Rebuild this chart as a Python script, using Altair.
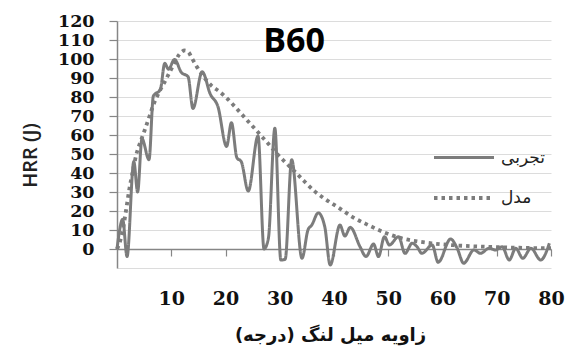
import altair as alt
import pandas as pd

# Experimental heat release rate (J) against crank angle (deg)
exp_x = [0, 1.05, 1.85, 3.1, 3.8, 4.6, 5.9, 6.7, 8.0, 8.8, 9.5, 10.6, 11.85, 13.1, 14.0,
         15.7, 17.2, 18.6, 20.2, 21.1, 22.1, 22.9, 24.2, 26.0, 27.1, 27.9, 29.1, 30.2,
         31.0, 32.2, 34.1, 35.2, 35.9, 37.1, 38.3, 39.3, 41.1, 42.0, 43.0, 44.8, 45.9,
         47.3, 48.2, 49.3, 50.2, 51.9, 53.1, 54.4, 55.3, 56.2, 58.1, 59.2, 61.5, 62.7,
         63.9, 65.8, 67.0, 68.6, 69.8, 71.0, 72.3, 73.5, 74.8, 76.3, 78.1, 79.7]
exp_y = [0, 15.6, -4, 46, 30, 58, 47, 80.5, 84, 97.7, 94.6, 99.8, 93, 90.7, 74,
         93.3, 81.5, 75, 54, 66.5, 48, 46, 30.5, 59.5, 0, 5.5, 63.5, -5.8,
         -5.4, 47, -4.9, 10, 12.6, 19, 11.7, -8.4, 12.6, 6.8, 11.4, 1.2, -4,
         2.6, -4, 6.5, 2.1, 6.5, -2.3, 3, 1.2, -2.3, 2.1, -7, 5.3, 0.4,
         -7.5, -0.5, -2.3, 0.4, -0.5, 1.2, -5.8, 0.4, -4.9, 0.4, -5.8, 3]

# Model heat release rate (J)
model_x = [0, 0.5, 1, 1.7, 2.3, 3, 3.5, 4.4, 5.1, 6, 6.6, 7.5, 8.8, 9.7, 10.6, 11.5,
           12.5, 13.2, 13.8, 14.6, 16, 17.4, 18.8, 20.1, 21.7, 23.5, 25.5, 26.6, 27.7,
           29.7, 30.9, 33.1, 34.6, 36.5, 38, 40.7, 43.5, 46.3, 49.4, 52.5, 55.6, 58,
           62, 66, 70, 75, 80]
model_y = [0, 3.5, 9, 21, 32, 42, 49, 57, 62.5, 70, 75, 81, 88, 93, 98, 102.5,
           104.5, 103.5, 100.5, 96.5, 90.5, 86, 83, 79.8, 75, 69.3, 63, 59.5, 56,
           49.5, 46, 39.8, 35.4, 30.2, 27, 22, 16.7, 12.6, 8.6, 5.6, 3.9, 3,
           2, 1.4, 1, 0.6, 0.4]

SERIES = ["تجربی", "مدل"]
X_TITLE = "زاویه میل لنگ (درجه)\u200f"
Y_TITLE = "HRR (J)"
PANEL_LABEL = "B60"

x_ticks = [10, 20, 30, 40, 50, 60, 70, 80]
y_ticks = list(range(-10, 121, 10))

df = pd.concat([
    pd.DataFrame({"angle": exp_x, "hrr": exp_y, "series": SERIES[0],
                  "order": range(len(exp_x))}),
    pd.DataFrame({"angle": model_x, "hrr": model_y, "series": SERIES[1],
                  "order": range(len(model_x))}),
], ignore_index=True)

W, H = 434, 247
PAD_L, PAD_T = 117, 21
GRAY = "#7c7c7c"
AXIS_GRAY = "#868686"

legend = alt.Legend(
    title=None, orient="none", legendX=315, legendY=105,
    symbolType="stroke", symbolSize=3600, symbolStrokeWidth=3,
    labelFont="DejaVu Sans", labelFontSize=17, labelColor="#222",
    labelOffset=5, rowPadding=-21, padding=0,
)

lines = alt.Chart(df).mark_line(interpolate="monotone").encode(
    x=alt.X(
        "angle:Q",
        scale=alt.Scale(domain=[0, 80], nice=False, zero=False),
        axis=alt.Axis(
            values=x_ticks, offset=-19, grid=False,
            domainColor=AXIS_GRAY, domainWidth=1.5,
            tickColor=AXIS_GRAY, tickSize=7, tickWidth=1.2,
            labelFont="DejaVu Serif", labelFontWeight="bold",
            labelFontSize=19, labelColor="#111", labelPadding=33,
            labelFlush=False, labelOverlap=False,
            title=X_TITLE, titleFont="DejaVu Sans", titleFontSize=18,
            titleFontWeight="bold", titleColor="#111",
            titleX=213, titleY=86, titleAlign="center", titleBaseline="middle",
        ),
    ),
    y=alt.Y(
        "hrr:Q",
        scale=alt.Scale(domain=[-10, 120], nice=False),
        axis=alt.Axis(
            values=y_ticks, labelExpr="datum.value < 0 ? '' : datum.label",
            grid=True, gridColor="#dcdcdc", gridWidth=1,
            domainColor=AXIS_GRAY, domainWidth=1.5,
            tickColor={"condition": {"test": "datum.value < 0", "value": "transparent"},
                       "value": AXIS_GRAY},
            tickSize=8, tickWidth=1.2,
            labelFont="DejaVu Serif", labelFontWeight="bold",
            labelFontSize=17.5, labelColor="#111", labelPadding=15,
            labelOverlap=False, labelFlush=False,
            title=Y_TITLE, titleFont="Open Sans", titleFontSize=20,
            titleFontWeight=600, titleColor="#222",
            titleX=-87, titleY=134, titleAngle=270,
            titleAlign="center", titleBaseline="middle",
        ),
    ),
    color=alt.Color("series:N",
                    scale=alt.Scale(domain=SERIES, range=[GRAY, GRAY]),
                    legend=legend),
    strokeDash=alt.StrokeDash("series:N",
                              scale=alt.Scale(domain=SERIES, range=[[1, 0], [3.5, 4]]),
                              legend=legend),
    strokeWidth=alt.StrokeWidth("series:N",
                                scale=alt.Scale(domain=SERIES, range=[3, 3.8]),
                                legend=None),
    order="order:Q",
)

label = alt.Chart(pd.DataFrame({"t": [PANEL_LABEL]})).mark_text(
    font="Open Sans", fontWeight="bold", fontSize=34, color="#000",
    align="center", baseline="middle",
).encode(text="t:N", x=alt.value(177), y=alt.value(21))

chart = alt.layer(lines, label).properties(
    width=W, height=H,
    autosize=alt.AutoSizeParams(type="none"),
    padding={"left": PAD_L, "top": PAD_T, "right": 573 - PAD_L - W, "bottom": 347 - PAD_T - H},
    background="white",
).configure_view(stroke=None)

chart.save("out.html", embed_options={"renderer": "svg", "actions": False})
